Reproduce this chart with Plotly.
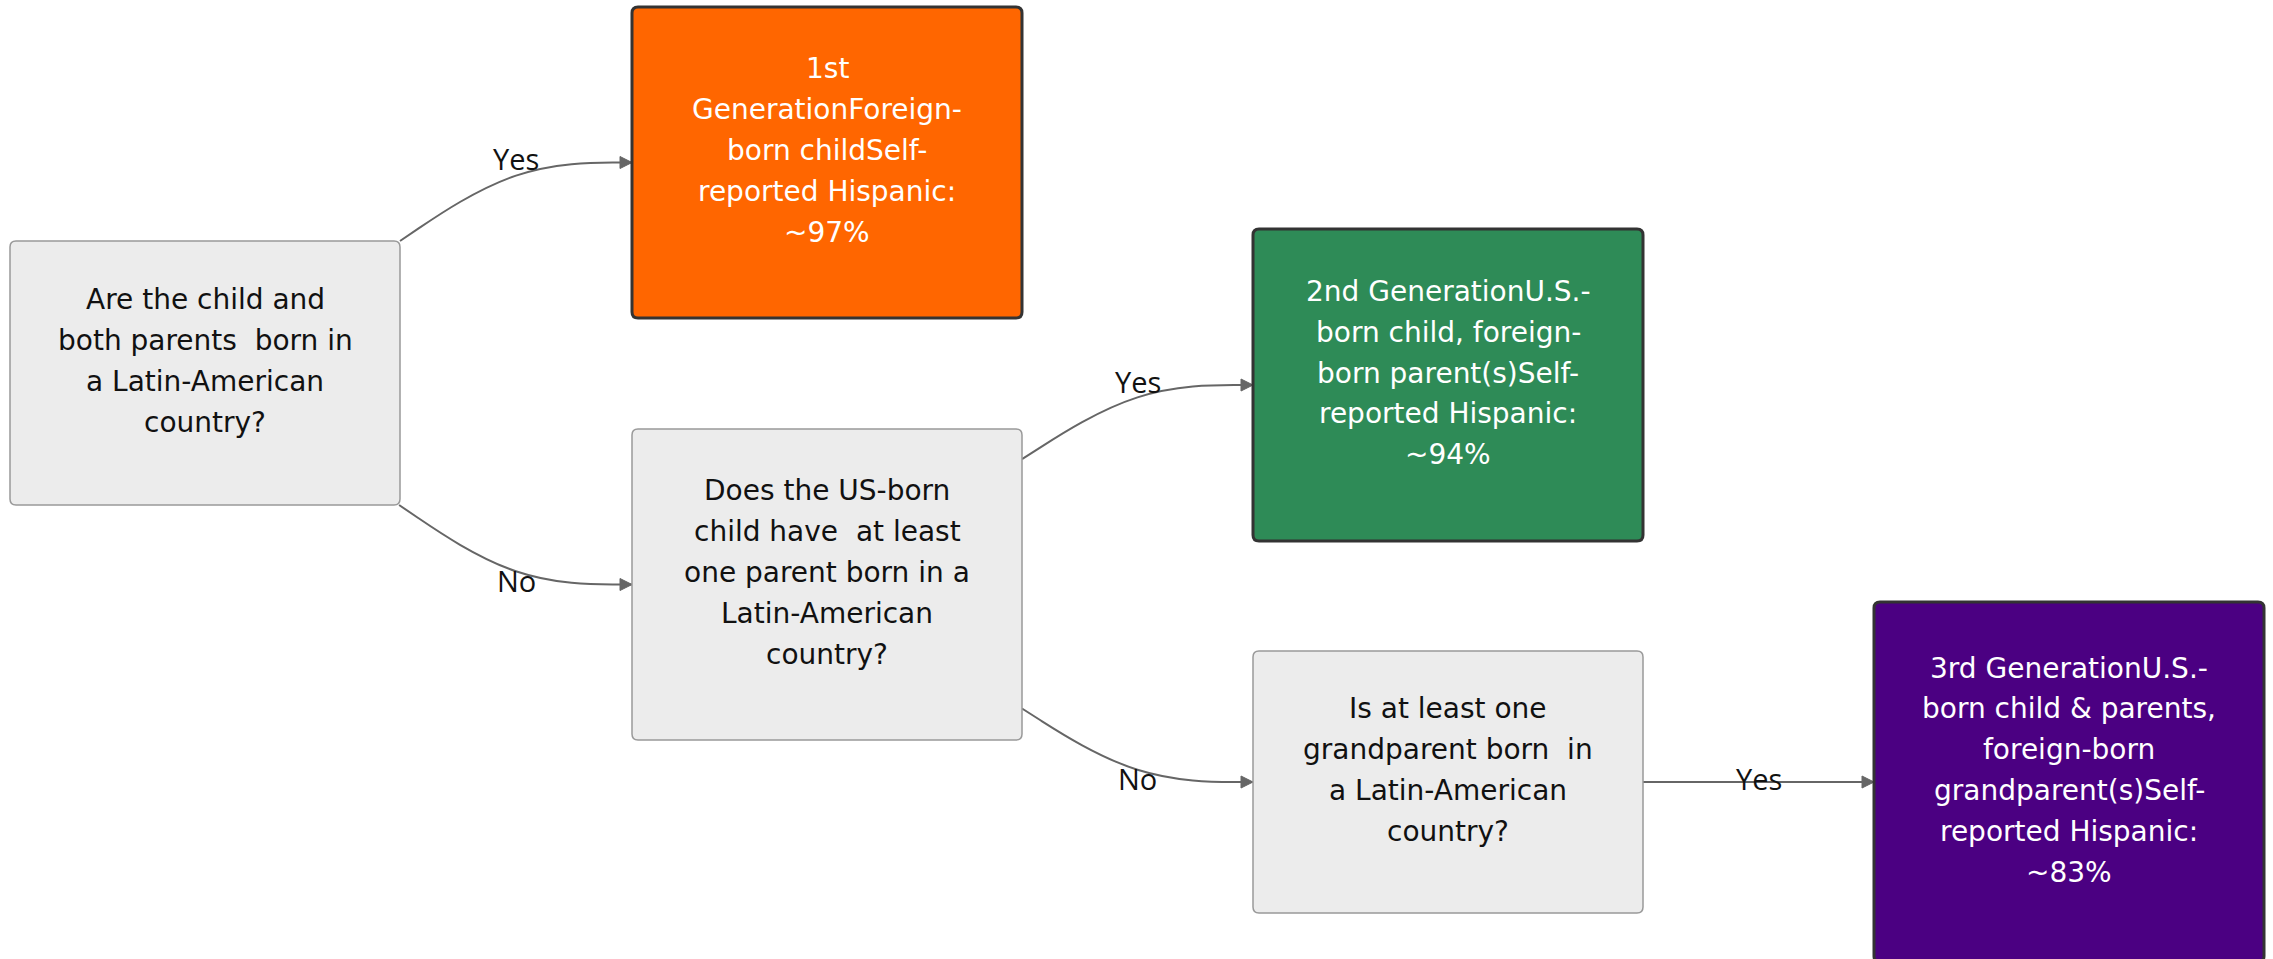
import plotly.graph_objects as go

# ---------------- data ----------------
node_ids = ["A", "B", "C", "D", "E", "F"]
node_lines = [
    ["Are the child and", "both parents\u00a0 born in", "a Latin-American", "country?"],
    ["1st", "GenerationForeign-", "born childSelf-", "reported Hispanic:", "~97%"],
    ["Does the US-born", "child have\u00a0 at least", "one parent born in a", "Latin-American", "country?"],
    ["2nd GenerationU.S.-", "born child, foreign-", "born parent(s)Self-", "reported Hispanic:", "~94%"],
    ["Is at least one", "grandparent born\u00a0 in", "a Latin-American", "country?"],
    ["3rd GenerationU.S.-", "born child & parents,", "foreign-born", "grandparent(s)Self-", "reported Hispanic:", "~83%"],
]
node_kind = ["question", "gen1", "question", "gen2", "question", "gen3"]

edge_src = ["A", "A", "C", "C", "E"]
edge_dst = ["B", "C", "D", "E", "F"]
edge_labels = ["Yes", "No", "Yes", "No", "Yes"]

# ---------------- layout / styles ----------------
W, H = 2273, 959
col_left = [10, 632, 1253, 1874]
col_width = 390
node_col = {"A": 0, "B": 1, "C": 1, "D": 2, "E": 2, "F": 3}
node_cy = {"A": 373, "B": 162.5, "C": 584.5, "D": 385, "E": 782, "F": 782}
node_h = {"A": 264, "B": 311, "C": 311, "D": 312, "E": 262, "F": 360}

styles = {
    "question": dict(fill="#ECECEC", line="#999999", lw=1.5, font="#111111"),
    "gen1": dict(fill="#FF6600", line="#333333", lw=3, font="#FFFFFF"),
    "gen2": dict(fill="#2E8B57", line="#333333", lw=3, font="#FFFFFF"),
    "gen3": dict(fill="#4B0082", line="#333333", lw=3, font="#FFFFFF"),
}
LINE_SP = 40.8
TEXT_OFF = -12
LABEL_OFF = -4
EDGE_COLOR = "#666666"
R = 6


def box(nid):
    x0 = col_left[node_col[nid]]
    x1 = x0 + col_width
    cy = node_cy[nid]
    h = node_h[nid]
    return x0, cy - h / 2, x1, cy + h / 2


def rounded_path(x0, y0, x1, y1, r):
    return (f"M {x0+r},{y0} L {x1-r},{y0} Q {x1},{y0} {x1},{y0+r} "
            f"L {x1},{y1-r} Q {x1},{y1} {x1-r},{y1} L {x0+r},{y1} "
            f"Q {x0},{y1} {x0},{y1-r} L {x0},{y0+r} Q {x0},{y0} {x0+r},{y0} Z")


def basis_path(pts):
    (x0, y0), (x1, y1), (x2, y2) = pts
    s = f"M {x0},{y0} L {(5*x0+x1)/6},{(5*y0+y1)/6} "
    s += (f"C {(2*x0+x1)/3},{(2*y0+y1)/3} {(x0+2*x1)/3},{(y0+2*y1)/3} "
          f"{(x0+4*x1+x2)/6},{(y0+4*y1+y2)/6} ")
    s += (f"C {(2*x1+x2)/3},{(2*y1+y2)/3} {(x1+2*x2)/3},{(y1+2*y2)/3} "
          f"{(x1+5*x2)/6},{(y1+5*y2)/6} L {x2},{y2}")
    return s


fig = go.Figure()
shapes = []
annotations = []

# edges
for s, d, lab in zip(edge_src, edge_dst, edge_labels):
    sx0, sy0, sx1, sy1 = box(s)
    dx0, dy0, dx1, dy1 = box(d)
    scx, scy = (sx0 + sx1) / 2, (sy0 + sy1) / 2
    tcy = (dy0 + dy1) / 2
    mx, my = (sx1 + dx0) / 2, tcy
    vx, vy = mx - scx, my - scy
    hw, hh = (sx1 - sx0) / 2, (sy1 - sy0) / 2
    t = min(hw / abs(vx) if vx else 1e9, hh / abs(vy) if vy else 1e9)
    start = (scx + vx * t, scy + vy * t)
    end = (dx0, tcy)
    shapes.append(dict(type="path", path=basis_path([start, (mx, my), end]),
                       line=dict(color=EDGE_COLOR, width=2), layer="below"))
    # arrowhead
    ax = dx0
    shapes.append(dict(type="path",
                       path=f"M {ax-12},{tcy-6} L {ax},{tcy} L {ax-12},{tcy+6} Z",
                       fillcolor=EDGE_COLOR, line=dict(color=EDGE_COLOR, width=1)))
    annotations.append(dict(x=mx, y=my + LABEL_OFF, text=lab, showarrow=False,
                            xanchor="center", yanchor="middle",
                            font=dict(family="Open Sans", size=29, color="#111111")))

# nodes
for nid, lines, kind in zip(node_ids, node_lines, node_kind):
    st = styles[kind]
    x0, y0, x1, y1 = box(nid)
    shapes.append(dict(type="path", path=rounded_path(x0, y0, x1, y1, R),
                       fillcolor=st["fill"], line=dict(color=st["line"], width=st["lw"])))
    cx = (x0 + x1) / 2
    cy = (y0 + y1) / 2 + TEXT_OFF
    n = len(lines)
    for i, ln in enumerate(lines):
        annotations.append(dict(x=cx, y=cy + (i - (n - 1) / 2) * LINE_SP, text=ln,
                                showarrow=False, xanchor="center", yanchor="middle",
                                font=dict(family="DejaVu Sans", size=28, color=st["font"])))

fig.update_layout(
    width=W, height=H,
    margin=dict(l=0, r=0, t=0, b=0),
    paper_bgcolor="white", plot_bgcolor="white",
    xaxis=dict(range=[0, W], visible=False, fixedrange=True),
    yaxis=dict(range=[H, 0], visible=False, fixedrange=True),
    shapes=shapes, annotations=annotations, showlegend=False,
)

fig.write_html(
    "out.html",
    config={"displayModeBar": False},
    post_script="document.body.style.margin='0';document.body.style.overflow='hidden';",
)
